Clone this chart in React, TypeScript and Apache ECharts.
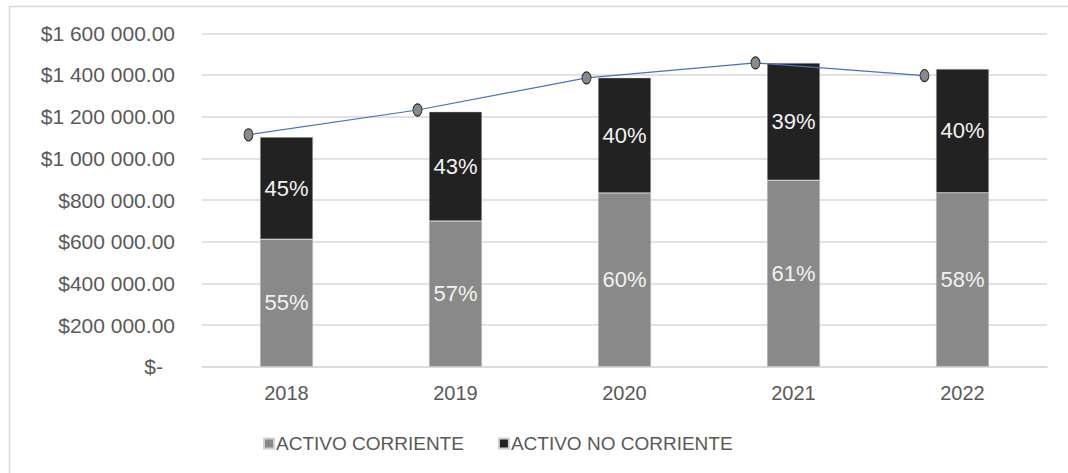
import React, { useEffect, useRef } from "react";
import * as echarts from "echarts";

const years = ["2018", "2019", "2020", "2021", "2022"];
const activoCorriente = [612000, 699000, 834000, 895000, 835000];
const activoNoCorriente = [490000, 525000, 553000, 563000, 594000];
const totalLine = [1113000, 1232000, 1386000, 1458000, 1397000];
const pctCorriente = [55, 57, 60, 61, 58];
const pctNoCorriente = [45, 43, 40, 39, 40];
const yTicks = { min: 0, max: 1600000, interval: 200000 };

const fmtMoney = (v: number) => {
  if (v === 0) return "{z|$-}";
  const s = Math.round(v).toString().replace(/\B(?=(\d{3})+(?!\d))/g, " ");
  return "$" + s + ".00";
};

export default function App() {
  const ref = useRef<HTMLDivElement>(null);
  useEffect(() => {
    if (!ref.current) return;
    const chart = echarts.init(ref.current, null, { renderer: "svg" });
    const font = "Liberation Sans, Arial, sans-serif";
    const labelStyle = {
      show: true,
      position: "inside" as const,
      color: "#f2f2f2",
      fontSize: 22,
      fontWeight: "normal" as const,
      textBorderWidth: 0,
      textShadowBlur: 0,
      fontFamily: font,
    };
    chart.setOption({
      animation: false,
      backgroundColor: "#ffffff",
      textStyle: { fontFamily: font },
      graphic: [
        {
          type: "rect",
          shape: { x: 9.5, y: 6.5, width: 1200, height: 600 },
          style: { fill: "none", stroke: "#d9d9d9", lineWidth: 1.5 },
          silent: true,
        },
      ],
      legend: {
        left: 258,
        top: 429,
        itemWidth: 10,
        itemHeight: 10,
        itemGap: 34,
        icon: "rect",
        textStyle: { color: "#595959", fontSize: 19, fontFamily: font, padding: [0, 0, 0, -3] },
        data: ["ACTIVO CORRIENTE", "ACTIVO NO CORRIENTE"],
      },
      grid: [
        { left: 202, right: 21, top: 33.3, bottom: 106.3 },
        { left: 164, right: 59, top: 33.3, bottom: 106.3 },
      ],
      xAxis: [
        {
          type: "category",
          gridIndex: 0,
          data: years,
          axisTick: { show: false },
          axisLine: { lineStyle: { color: "#d9d9d9", width: 1.5 } },
          axisLabel: { color: "#595959", fontSize: 20, fontFamily: font, margin: 16 },
        },
        {
          type: "category",
          gridIndex: 1,
          data: years,
          show: false,
        },
      ],
      yAxis: [
        {
          type: "value",
          gridIndex: 0,
          min: yTicks.min,
          max: yTicks.max,
          interval: yTicks.interval,
          axisLine: { show: false },
          axisTick: { show: false },
          splitLine: { lineStyle: { color: "#d9d9d9", width: 1.5 } },
          axisLabel: {
            color: "#595959",
            fontSize: 21,
            fontFamily: font,
            margin: 27,
            formatter: fmtMoney,
            rich: { z: { color: "#595959", fontSize: 21, fontFamily: font, padding: [0, 12, 0, 0] } },
          },
        },
        {
          type: "value",
          gridIndex: 1,
          min: yTicks.min,
          max: yTicks.max,
          interval: yTicks.interval,
          show: false,
        },
      ],
      series: [
        {
          name: "ACTIVO CORRIENTE",
          type: "bar",
          stack: "a",
          barWidth: 53,
          data: activoCorriente,
          itemStyle: { color: "#898989", borderColor: "#d0d0d0", borderWidth: 0.5 },
          label: { ...labelStyle, formatter: (p: any) => pctCorriente[p.dataIndex] + "%" },
        },
        {
          name: "ACTIVO NO CORRIENTE",
          type: "bar",
          stack: "a",
          barWidth: 53,
          data: activoNoCorriente,
          itemStyle: { color: "#222222", borderColor: "#d0d0d0", borderWidth: 0.5 },
          label: { ...labelStyle, formatter: (p: any) => pctNoCorriente[p.dataIndex] + "%" },
        },
        {
          name: "TOTAL",
          type: "line",
          xAxisIndex: 1,
          yAxisIndex: 1,
          data: totalLine,
          symbol: "circle",
          symbolSize: [9, 12],
          lineStyle: { color: "#4472c4", width: 1.2 },
          itemStyle: { color: "#8a8a8a", borderColor: "#262626", borderWidth: 1 },
          z: 5,
        },
      ],
    });
    return () => chart.dispose();
  }, []);
  return (
    <div
      ref={ref}
      style={{ position: "fixed", left: 0, top: 0, width: 1068, height: 473 }}
    />
  );
}
